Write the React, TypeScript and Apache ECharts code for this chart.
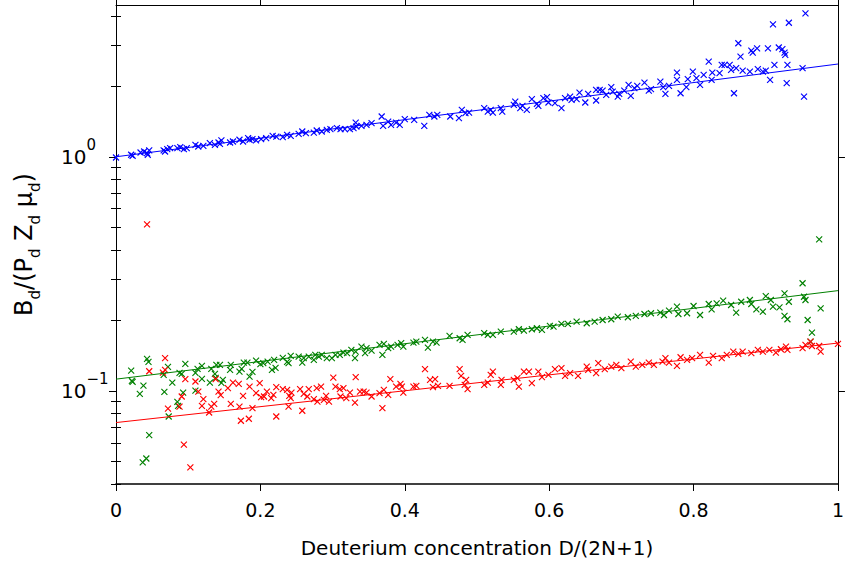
import React, { useEffect, useRef } from 'react';
import * as echarts from 'echarts';

const xTickValues = [0, 0.2, 0.4, 0.6, 0.8, 1];
const yMajorTicks = [0.1, 1];
const yMinorTicks = [0.04, 0.05, 0.06, 0.07, 0.08, 0.09, 0.2, 0.3, 0.4, 0.5, 0.6, 0.7, 0.8, 0.9, 2, 3, 4];
const xTitle = 'Deuterium concentration D/(2N+1)';

const fitX = [0, 1];
const blueFit = [1.0, 2.49];
const greenFit = [0.1122, 0.268];
const redFit = [0.0732, 0.16];

const bluePoints: [number, number][] = [
  [0, 0.993], [0.021, 1.02], [0.023, 1.01], [0.034, 1.043], [0.039, 1.053], [0.043, 1.037], [0.046, 1.064], [0.044, 1.02],
  [0.066, 1.064], [0.071, 1.079], [0.068, 1.053], [0.075, 1.089], [0.085, 1.089], [0.089, 1.1], [0.094, 1.079], [0.098, 1.089],
  [0.11, 1.125], [0.114, 1.106], [0.121, 1.114], [0.13, 1.144], [0.137, 1.125], [0.142, 1.151], [0.146, 1.174], [0.144, 1.136],
  [0.158, 1.151], [0.162, 1.162], [0.171, 1.182], [0.176, 1.162], [0.183, 1.202], [0.185, 1.182], [0.189, 1.19], [0.194, 1.174],
  [0.201, 1.19], [0.208, 1.202], [0.217, 1.229], [0.222, 1.22], [0.231, 1.213], [0.237, 1.241], [0.242, 1.229], [0.253, 1.253],
  [0.258, 1.282], [0.263, 1.262], [0.274, 1.269], [0.278, 1.295], [0.285, 1.282], [0.292, 1.304], [0.297, 1.313], [0.306, 1.326],
  [0.311, 1.313], [0.317, 1.313], [0.324, 1.313], [0.329, 1.326], [0.332, 1.4], [0.333, 1.347], [0.34, 1.356], [0.347, 1.369],
  [0.354, 1.392], [0.368, 1.486], [0.37, 1.356], [0.377, 1.414], [0.381, 1.369], [0.388, 1.4], [0.393, 1.369], [0.4, 1.448],
  [0.413, 1.438], [0.427, 1.356], [0.434, 1.511], [0.441, 1.486], [0.445, 1.511], [0.463, 1.486], [0.475, 1.463], [0.479, 1.587],
  [0.484, 1.536], [0.489, 1.545], [0.51, 1.613], [0.515, 1.56], [0.519, 1.587], [0.522, 1.545], [0.533, 1.613], [0.535, 1.56],
  [0.551, 1.666], [0.553, 1.72], [0.56, 1.613], [0.563, 1.65], [0.569, 1.587], [0.576, 1.763], [0.583, 1.683], [0.585, 1.65],
  [0.592, 1.78], [0.597, 1.797], [0.599, 1.705], [0.608, 1.695], [0.617, 1.613], [0.622, 1.78], [0.629, 1.807], [0.631, 1.751],
  [0.638, 1.763], [0.642, 1.88], [0.65, 1.705], [0.654, 1.856], [0.665, 1.932], [0.665, 1.739], [0.67, 1.932], [0.674, 1.918],
  [0.679, 1.838], [0.686, 1.983], [0.688, 1.899], [0.695, 1.807], [0.697, 1.856], [0.704, 1.918], [0.71, 2.028], [0.713, 1.821],
  [0.718, 1.963], [0.722, 2.008], [0.732, 2.073], [0.738, 1.918], [0.741, 1.945], [0.754, 2.094], [0.758, 1.983], [0.761, 1.856],
  [0.766, 2.008], [0.777, 2.289], [0.777, 2.13], [0.782, 1.868], [0.79, 1.983], [0.792, 2.145], [0.799, 2.311], [0.804, 2.166],
  [0.809, 2.028], [0.814, 2.237], [0.821, 2.548], [0.825, 2.13], [0.826, 2.289], [0.836, 2.276], [0.839, 2.47], [0.843, 2.47],
  [0.85, 2.47], [0.852, 2.351], [0.856, 1.868], [0.859, 2.391], [0.862, 3.054], [0.865, 2.678], [0.868, 2.334], [0.878, 2.311],
  [0.88, 2.84], [0.882, 2.785], [0.888, 2.906], [0.889, 2.367], [0.896, 2.311], [0.9, 2.334], [0.903, 2.906], [0.906, 2.13],
  [0.91, 3.678], [0.912, 2.47], [0.918, 2.929], [0.923, 2.882], [0.926, 2.785], [0.927, 2.723], [0.929, 2.063], [0.93, 2.47],
  [0.932, 3.736], [0.951, 2.391], [0.953, 1.807], [0.955, 4.1],
];

const greenPoints: [number, number][] = [
  [0.021, 0.1221], [0.022, 0.1103], [0.023, 0.1092], [0.043, 0.1369], [0.045, 0.1329], [0.038, 0.1053], [0.033, 0.0971],
  [0.067, 0.099], [0.066, 0.117], [0.072, 0.1266], [0.078, 0.1085], [0.088, 0.1193], [0.091, 0.1182], [0.096, 0.1304],
  [0.085, 0.0898], [0.086, 0.0863], [0.093, 0.0983], [0.073, 0.0777], [0.11, 0.1003], [0.11, 0.1193], [0.113, 0.1241],
  [0.119, 0.1278], [0.119, 0.1125], [0.13, 0.1085], [0.137, 0.1182], [0.138, 0.1136], [0.139, 0.1291], [0.144, 0.1291],
  [0.146, 0.1082], [0.148, 0.1114], [0.132, 0.1241], [0.158, 0.1229], [0.159, 0.1291], [0.171, 0.1209], [0.174, 0.1241],
  [0.177, 0.132], [0.182, 0.132], [0.185, 0.1151], [0.189, 0.1205], [0.194, 0.1346], [0.2, 0.13], [0.204, 0.1313],
  [0.21, 0.1334], [0.216, 0.1229], [0.221, 0.1253], [0.219, 0.1356], [0.231, 0.1383], [0.237, 0.1329], [0.239, 0.1313],
  [0.242, 0.141], [0.253, 0.14], [0.258, 0.132], [0.26, 0.1379], [0.267, 0.14], [0.274, 0.1356], [0.276, 0.1424],
  [0.281, 0.14], [0.285, 0.1424], [0.292, 0.1379], [0.299, 0.1379], [0.304, 0.1424], [0.31, 0.1424], [0.315, 0.1457],
  [0.32, 0.1448], [0.326, 0.1496], [0.331, 0.1379], [0.332, 0.1471], [0.34, 0.1545], [0.345, 0.1448], [0.347, 0.1521],
  [0.354, 0.1486], [0.365, 0.1571], [0.369, 0.1424], [0.371, 0.1587], [0.377, 0.1521], [0.381, 0.1545], [0.39, 0.1571],
  [0.395, 0.1598], [0.037, 0.0495], [0.042, 0.0514], [0.046, 0.0647], [0.398, 0.1545], [0.412, 0.1607], [0.416, 0.1623],
  [0.428, 0.165], [0.432, 0.153], [0.439, 0.1623], [0.444, 0.1607], [0.462, 0.1716], [0.476, 0.1678], [0.48, 0.165],
  [0.487, 0.1733], [0.51, 0.1763], [0.515, 0.1733], [0.522, 0.1733], [0.533, 0.179], [0.551, 0.179], [0.558, 0.1833],
  [0.565, 0.1808], [0.576, 0.1833], [0.583, 0.1851], [0.59, 0.1821], [0.601, 0.1894], [0.606, 0.1881], [0.617, 0.1932],
  [0.626, 0.1932], [0.638, 0.1976], [0.652, 0.1945], [0.663, 0.1976], [0.674, 0.2008], [0.686, 0.2022], [0.695, 0.2074],
  [0.709, 0.2062], [0.72, 0.2089], [0.732, 0.213], [0.741, 0.2145], [0.754, 0.2157], [0.759, 0.2109], [0.766, 0.22],
  [0.777, 0.2288], [0.779, 0.213], [0.791, 0.2145], [0.8, 0.2304], [0.809, 0.2109], [0.821, 0.235], [0.825, 0.223],
  [0.832, 0.2366], [0.841, 0.2427], [0.852, 0.2327], [0.859, 0.2157], [0.866, 0.2403], [0.878, 0.2444], [0.88, 0.235],
  [0.887, 0.223], [0.896, 0.2178], [0.9, 0.2541], [0.907, 0.2444], [0.91, 0.2288], [0.919, 0.2274], [0.926, 0.2607],
  [0.926, 0.2089], [0.93, 0.2022], [0.932, 0.2403], [0.951, 0.2882], [0.953, 0.2524], [0.955, 0.2444], [0.958, 0.2008],
  [0.964, 0.1772], [0.962, 0.1623], [0.976, 0.2252], [0.974, 0.444],
];

const redPoints: [number, number][] = [
  [0.068, 0.1379], [0.046, 0.1213], [0.065, 0.1197], [0.068, 0.1229], [0.096, 0.1122], [0.11, 0.1096], [0.114, 0.0993],
  [0.091, 0.0946], [0.088, 0.0857], [0.072, 0.084], [0.121, 0.0922], [0.119, 0.0863], [0.132, 0.0857], [0.136, 0.088],
  [0.129, 0.0808], [0.138, 0.1122], [0.142, 0.0993], [0.145, 0.0959], [0.155, 0.1027], [0.162, 0.1085], [0.17, 0.1071],
  [0.159, 0.088], [0.171, 0.0857], [0.176, 0.0952], [0.185, 0.1043], [0.199, 0.1079], [0.189, 0.0844], [0.173, 0.0745],
  [0.184, 0.076], [0.194, 0.0978], [0.201, 0.094], [0.205, 0.0946], [0.209, 0.0993], [0.215, 0.0931], [0.218, 0.0961],
  [0.222, 0.1037], [0.222, 0.0777], [0.231, 0.1017], [0.237, 0.101], [0.24, 0.0952], [0.243, 0.0983], [0.242, 0.0931],
  [0.239, 0.0857], [0.258, 0.0822], [0.255, 0.1017], [0.26, 0.0971], [0.265, 0.0946], [0.267, 0.1017], [0.274, 0.0922],
  [0.278, 0.1027], [0.284, 0.1043], [0.279, 0.09], [0.288, 0.0915], [0.291, 0.0952], [0.295, 0.09], [0.301, 0.1139],
  [0.304, 0.1043], [0.31, 0.1017], [0.315, 0.1027], [0.311, 0.0946], [0.319, 0.0931], [0.324, 0.0983], [0.331, 0.0891],
  [0.332, 0.1144], [0.338, 0.0993], [0.343, 0.0993], [0.347, 0.0983], [0.354, 0.0946], [0.365, 0.0978], [0.369, 0.0844],
  [0.371, 0.101], [0.377, 0.0961], [0.38, 0.1122], [0.388, 0.1043], [0.394, 0.1071], [0.396, 0.1043], [0.094, 0.0589],
  [0.103, 0.0471], [0.043, 0.514], [0.398, 0.0983], [0.412, 0.1043], [0.416, 0.105], [0.428, 0.1238], [0.435, 0.1114],
  [0.439, 0.1037], [0.442, 0.1122], [0.446, 0.105], [0.462, 0.105], [0.476, 0.1238], [0.478, 0.1159], [0.483, 0.1061],
  [0.485, 0.1114], [0.487, 0.1017], [0.51, 0.1061], [0.515, 0.1085], [0.519, 0.117], [0.522, 0.1209], [0.534, 0.1114],
  [0.533, 0.1061], [0.551, 0.1114], [0.556, 0.1133], [0.558, 0.1043], [0.565, 0.1209], [0.572, 0.1209], [0.576, 0.1079],
  [0.585, 0.1209], [0.59, 0.1144], [0.599, 0.117], [0.608, 0.1238], [0.617, 0.125], [0.622, 0.1159], [0.629, 0.119],
  [0.64, 0.1159], [0.652, 0.1269], [0.654, 0.1229], [0.665, 0.119], [0.668, 0.1313], [0.677, 0.1238], [0.686, 0.1269],
  [0.693, 0.1291], [0.7, 0.125], [0.713, 0.1334], [0.72, 0.1269], [0.729, 0.1291], [0.738, 0.132], [0.745, 0.1291],
  [0.757, 0.1334], [0.761, 0.1379], [0.766, 0.132], [0.777, 0.1278], [0.782, 0.1392], [0.791, 0.1356], [0.798, 0.1379],
  [0.809, 0.1424], [0.821, 0.132], [0.827, 0.141], [0.839, 0.1379], [0.846, 0.1424], [0.855, 0.1471], [0.862, 0.1438],
  [0.868, 0.1471], [0.88, 0.1448], [0.889, 0.1496], [0.896, 0.1471], [0.905, 0.1496], [0.914, 0.1457], [0.921, 0.1506],
  [0.928, 0.1545], [0.93, 0.1496], [0.951, 0.1521], [0.955, 0.1571], [0.962, 0.1623], [0.964, 0.1555], [0.974, 0.1555],
  [0.976, 0.1471], [1.0, 0.1587],
];

const FONT = 'DejaVu Sans';
const BLUE = '#0000ff';
const GREEN = '#008000';
const RED = '#ff0000';
const CROSS = 'path://M0,0L10,10M10,0L0,10';

const yMin = 0.04;
const yMax = 4.45;

function scatter(name: string, data: [number, number][], color: string) {
  return {
    name,
    type: 'scatter',
    data,
    symbol: CROSS,
    symbolSize: 6,
    itemStyle: { color: 'none', borderColor: color, borderWidth: 1.15, opacity: 1 },
    emphasis: { disabled: true },
    z: 3,
  };
}

function fitLine(name: string, ys: number[], color: string) {
  return {
    name,
    type: 'line',
    data: fitX.map((x, i) => [x, ys[i]]),
    showSymbol: false,
    symbol: 'none',
    lineStyle: { color, width: 1 },
    emphasis: { disabled: true },
    z: 4,
  };
}

export default function App() {
  const ref = useRef<HTMLDivElement>(null);
  useEffect(() => {
    if (!ref.current) return;
    const chart = echarts.init(ref.current, null, { renderer: 'svg' });
    const axisLineStyle = { color: '#000', width: 1 };
    const logAxisBase = { type: 'log', logBase: 10, min: yMin, max: yMax, splitLine: { show: false } };
    chart.setOption({
      animation: false,
      backgroundColor: '#ffffff',
      grid: { left: 116, right: 1, top: 5, bottom: 86, containLabel: false },
      xAxis: [
        {
          type: 'value', min: 0, max: 1, interval: 0.2, position: 'bottom',
          axisLine: { onZero: false, lineStyle: { color: '#000', width: 1.6 } },
          axisTick: { inside: false, length: 7, lineStyle: { color: '#000', width: 1 }, customValues: xTickValues },
          axisLabel: { margin: 16, fontSize: 19, fontFamily: FONT, color: '#000', customValues: xTickValues },
          splitLine: { show: false },
          name: xTitle, nameLocation: 'middle', nameGap: 54,
          nameTextStyle: { fontSize: 20, fontFamily: FONT, color: '#000' },
        },
        {
          type: 'value', min: 0, max: 1, interval: 0.2, position: 'top',
          axisLine: { onZero: false, lineStyle: axisLineStyle },
          axisTick: { inside: false, length: 7, lineStyle: { color: '#000', width: 1 } },
          axisLabel: { show: false },
          splitLine: { show: false },
        },
      ],
      yAxis: [
        {
          ...logAxisBase, position: 'left',
          axisLine: { show: true, onZero: false, lineStyle: axisLineStyle },
          axisTick: { show: true, inside: false, length: 7, lineStyle: { color: '#000', width: 1 }, customValues: yMajorTicks },
          axisLabel: {
            customValues: yMajorTicks, margin: 55, align: 'left', color: '#000',
            formatter: (v: number) => {
              const e = Math.round(Math.log10(v));
              return '{b|10}{s|' + (e < 0 ? '\u2212' + Math.abs(e) : String(e)) + '}';
            },
            rich: {
              b: { fontSize: 20, fontFamily: FONT, color: '#000', verticalAlign: 'middle' },
              s: { fontSize: 15, fontFamily: FONT, color: '#000', lineHeight: 38, verticalAlign: 'top' },
            },
          },
          name: '{m|B}{s|d}{m|/(P}{s|d}{m| Z}{s|d}{m| \u03bc}{s|d}{m|)}',
          nameLocation: 'middle', nameRotate: 90, nameGap: 74,
          nameTextStyle: {
            rich: {
              m: { fontSize: 24, fontFamily: FONT, color: '#000', verticalAlign: 'top' },
              s: { fontSize: 15, fontFamily: FONT, color: '#000', lineHeight: 30, verticalAlign: 'bottom' },
            },
          },
        },
        {
          ...logAxisBase, position: 'left',
          axisLine: { show: false },
          axisTick: { show: true, inside: false, length: 5, lineStyle: { color: '#000', width: 1 }, customValues: yMinorTicks },
          axisLabel: { show: false },
        },
        {
          ...logAxisBase, position: 'right',
          axisLine: { show: true, onZero: false, lineStyle: axisLineStyle },
          axisTick: { show: true, inside: false, length: 7, lineStyle: { color: '#000', width: 1 }, customValues: yMajorTicks },
          axisLabel: { show: false },
        },
        {
          ...logAxisBase, position: 'right',
          axisLine: { show: false },
          axisTick: { show: true, inside: false, length: 5, lineStyle: { color: '#000', width: 1 }, customValues: yMinorTicks },
          axisLabel: { show: false },
        },
      ],
      series: [
        scatter('blue data', bluePoints, BLUE),
        fitLine('blue fit', blueFit, BLUE),
        scatter('green data', greenPoints, GREEN),
        fitLine('green fit', greenFit, GREEN),
        scatter('red data', redPoints, RED),
        fitLine('red fit', redFit, RED),
      ],
    });
    return () => chart.dispose();
  }, []);
  return (
    <div
      ref={ref}
      style={{ position: 'absolute', left: 0, top: 0, width: 847, height: 570, background: '#fff' }}
    />
  );
}
